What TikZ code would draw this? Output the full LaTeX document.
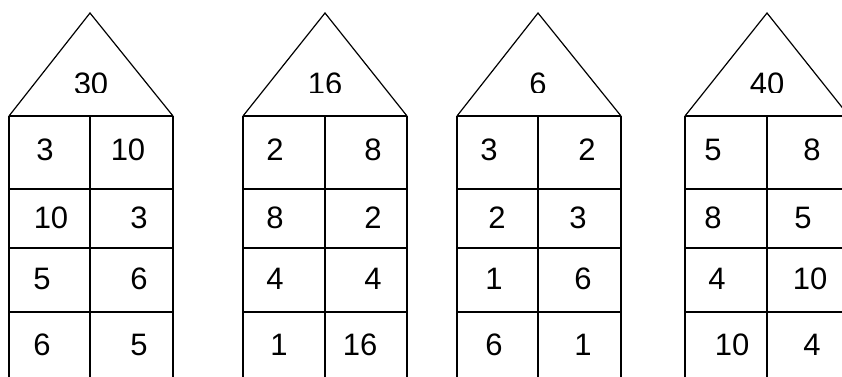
\documentclass[tikz,border=0pt]{standalone}
\usepackage{fontspec}
\setmainfont{Liberation Sans}
\usepackage{tikz}
\tikzset{roof/.style = {black, line width=1.2pt, line join=miter},
         wall/.style = {black, line width=1.8pt},
         num/.style  = {inner sep=0pt, font=\fontsize{31}{31}\selectfont}}

\begin{document}
\begin{tikzpicture} [x = 1pt, y = -1pt]
    \useasboundingbox (0,0) rectangle (842,376);
    \clip (0,0) rectangle (842,376);
    \foreach \l/\m/\r in {9/90/173, 243/325/407, 457/538/621, 685/767/849} {
    \draw[roof] (\l,116) -- (\m,13) -- (\r,116);
    \draw[wall] (\l,116) -- (\r,116);
    \draw[wall] (\l,116) -- (\l,380) (\m,116) -- (\m,380) (\r,116) -- (\r,380);
    \foreach \y in {189,248,312} {
    \draw[wall, line width=1.5pt] (\l,\y) -- (\r,\y);
    }
    }
    \begin{scope}
    \clip (0,0) rectangle (842,92);
    \foreach \x/\n in {91/30, 325/16, 538/6, 767/40} {
    \node[num] (top\n) at (\x,84) {\n};
    }
    \end{scope}
    \foreach \x/\y/\n in {45/150/3, 128/150/10, 51/218/10, 139/218/3, 42/279/5, 139/279/6, 42/345/6, 139/345/5,
                          275/150/2, 373/150/8, 275/218/8, 373/218/2, 275/279/4, 373/279/4, 279/345/1, 360/345/16,
                          489/150/3, 587/150/2, 497/218/2, 578/218/3, 494/279/1, 583/279/6, 494/345/6, 583/345/1,
                          713/150/5, 812/150/8, 713/218/8, 803/218/5, 717/279/4, 810/279/10, 732/345/10, 812/345/4} {
    \node[num] (c\x-\y) at (\x,\y) {\n};
    }
\end{tikzpicture}
\end{document}
